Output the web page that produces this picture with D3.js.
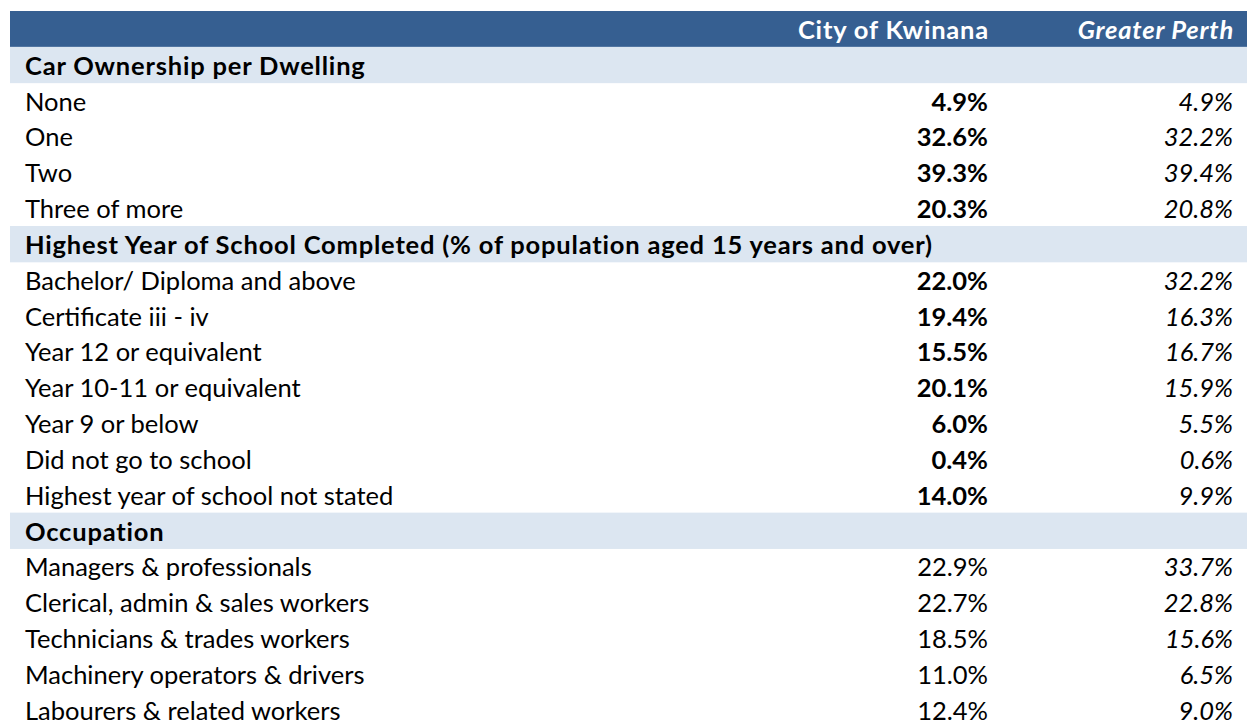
<!DOCTYPE html>
<html>
<head>
<meta charset="utf-8">
<script src="https://cdn.jsdelivr.net/npm/d3@7"></script>
<style>
  body { margin: 0; background: #fff; }
  text { font-family: Lato, "Open Sans", sans-serif; }
  text.b { letter-spacing: 0.8px; }
</style>
</head>
<body>
<div id="chart"></div>
<script>
var width = 1247,
    height = 724;

// column headings
var columns = ["City of Kwinana", "Greater Perth"];

// section headings and their rows
var sections = [
  "Car Ownership per Dwelling",
  "Highest Year of School Completed (% of population aged 15 years and over)",
  "Occupation"
];

var carLabels = ["None", "One", "Two", "Three of more"];
var carKwinana = [4.9, 32.6, 39.3, 20.3];
var carPerth = [4.9, 32.2, 39.4, 20.8];

var schoolLabels = ["Bachelor/ Diploma and above", "Certificate iii - iv", "Year 12 or equivalent",
  "Year 10-11 or equivalent", "Year 9 or below", "Did not go to school", "Highest year of school not stated"];
var schoolKwinana = [22.0, 19.4, 15.5, 20.1, 6.0, 0.4, 14.0];
var schoolPerth = [32.2, 16.3, 16.7, 15.9, 5.5, 0.6, 9.9];

var occLabels = ["Managers & professionals", "Clerical, admin & sales workers", "Technicians & trades workers",
  "Machinery operators & drivers", "Labourers & related workers"];
var occKwinana = [22.9, 22.7, 18.5, 11.0, 12.4];
var occPerth = [33.7, 22.8, 15.6, 6.5, 9.0];

// build flat list of rows
var rows = [{type: "header"}];
function addSection(title, labels, a, b, boldA) {
  rows.push({type: "section", label: title});
  labels.forEach(function(l, i) {
    rows.push({type: "row", label: l, a: a[i], b: b[i], bold: boldA});
  });
}
addSection(sections[0], carLabels, carKwinana, carPerth, true);
addSection(sections[1], schoolLabels, schoolKwinana, schoolPerth, true);
addSection(sections[2], occLabels, occKwinana, occPerth, false);

var rowH = 35.83;
var y = d3.scaleLinear()
    .domain([0, rows.length])
    .range([11, 11 + rows.length * rowH]);

var x = d3.scaleOrdinal()
    .domain(["label", columns[0], columns[1]])
    .range([25, 988, 1233]);

var fmt = function(v) { return d3.format(".1f")(v) + "%"; };

var svg = d3.select("#chart").append("svg")
    .attr("width", width)
    .attr("height", height);

var g = svg.selectAll("g.row")
    .data(rows)
    .enter().append("g")
    .attr("class", "row")
    .attr("transform", function(d, i) { return "translate(0," + y(i) + ")"; });

g.filter(function(d) { return d.type !== "row"; })
  .append("rect")
    .attr("x", 10)
    .attr("width", width - 10)
    .attr("height", rowH + 0.5)
    .attr("fill", function(d) { return d.type === "header" ? "#365f91" : "#dce6f1"; });

var fs = 25.5, base = 28;

// header
var hdr = g.filter(function(d) { return d.type === "header"; });
hdr.append("text")
    .attr("class", "b")
    .attr("x", x(columns[0]) + 1)
    .attr("y", base)
    .attr("text-anchor", "end")
    .attr("font-size", fs)
    .attr("font-weight", "bold")
    .attr("fill", "#fff")
    .text(columns[0]);
hdr.append("text")
    .attr("class", "b")
    .attr("x", x(columns[1]) + 1)
    .attr("y", base)
    .attr("text-anchor", "end")
    .attr("font-size", fs)
    .attr("font-weight", "bold")
    .attr("font-style", "italic")
    .attr("fill", "#fff")
    .text(columns[1]);

// sections
g.filter(function(d) { return d.type === "section"; })
  .append("text")
    .attr("class", "b")
    .attr("x", x("label"))
    .attr("y", base)
    .attr("font-size", fs)
    .attr("font-weight", "bold")
    .attr("fill", "#000")
    .text(function(d) { return d.label; });

// data rows
var dr = g.filter(function(d) { return d.type === "row"; });
dr.append("text")
    .attr("x", x("label"))
    .attr("y", base)
    .attr("font-size", fs)
    .attr("fill", "#000")
    .text(function(d) { return d.label; });
dr.append("text")
    .attr("x", x(columns[0]))
    .attr("y", base)
    .attr("text-anchor", "end")
    .attr("font-size", fs)
    .attr("font-weight", function(d) { return d.bold ? "bold" : "normal"; })
    .attr("fill", "#000")
    .text(function(d) { return fmt(d.a); });
dr.append("text")
    .attr("x", x(columns[1]))
    .attr("y", base)
    .attr("text-anchor", "end")
    .attr("font-size", fs)
    .attr("font-style", "italic")
    .attr("fill", "#000")
    .text(function(d) { return fmt(d.b); });
</script>
</body>
</html>
